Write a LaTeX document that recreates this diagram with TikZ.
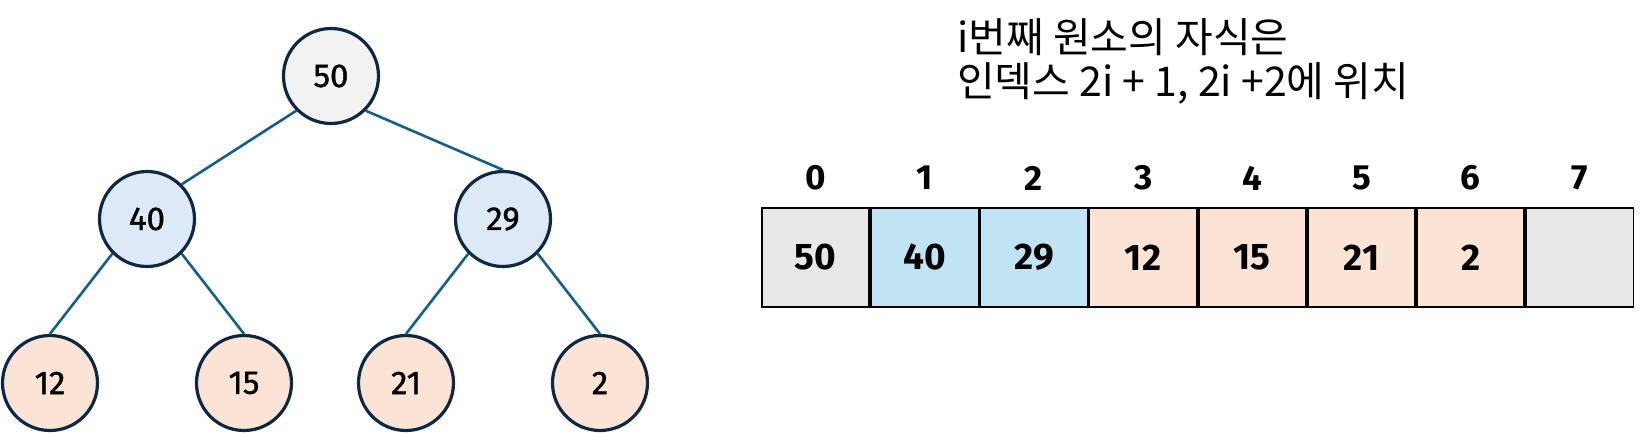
\documentclass[tikz,border=0pt]{standalone}
\usepackage{fontspec}
\setmainfont{Fira Sans}
\newfontfamily\circfont[FakeBold=1.2]{Fira Sans}
\newfontfamily\krfont{Noto Sans CJK KR}
\definecolor{rootfill}{HTML}{F2F2F2}
\definecolor{midfill}{HTML}{DCE9F7}
\definecolor{leaffill}{HTML}{FBE3D6}
\definecolor{ringcol}{HTML}{0E2841}
\definecolor{edgecol}{HTML}{156082}
\definecolor{graycell}{HTML}{E8E8E8}
\definecolor{bluecell}{HTML}{C1E4F5}
\tikzset{
  heapnode/.style={circle, draw=ringcol, line width=3.2pt, minimum size=95pt, inner sep=0pt, font=\circfont\fontsize{33}{35}\selectfont},
  treeedge/.style={draw=edgecol, line width=2.6pt},
  cellbox/.style={draw=black, line width=1.8pt, minimum width=107.375pt, minimum height=99pt, inner sep=0pt, anchor=north west, font=\bfseries\fontsize{37}{40}\selectfont},
  idxlabel/.style={font=\bfseries\fontsize{35}{38}\selectfont, inner sep=0pt},
  notetext/.style={font=\krfont\fontsize{41}{44}\selectfont, align=left, anchor=west, inner sep=0pt}
}
\begin{document}
\begin{tikzpicture}[x=1pt, y=-1pt]
\useasboundingbox (0,0) rectangle (1652,433);
% tree nodes
\node[heapnode, fill=rootfill] (n50) at (331,76) {50};
\node[heapnode, fill=midfill] (n40) at (147,219) {40};
\node[heapnode, fill=midfill] (n29) at (503,219) {29};
\node[heapnode, fill=leaffill] (n12) at (50,383) {12};
\node[heapnode, fill=leaffill] (n15) at (244,383) {15};
\node[heapnode, fill=leaffill] (n21) at (406,383) {21};
\node[heapnode, fill=leaffill] (n2) at (600,383) {2};
% edges
\draw[treeedge] (n50.south west) -- (n40.north east);
\draw[treeedge] (n50.south east) -- (n29.north);
\draw[treeedge] (n40.south west) -- (n12.north);
\draw[treeedge] (n40.south east) -- (n15.north);
\draw[treeedge] (n29.south west) -- (n21.north);
\draw[treeedge] (n29.south east) -- (n2.north);
% note
\node[notetext] (note) at (957,61) {i번째 원소의 자식은\\인덱스 2i + 1, 2i +2에 위치};
% array
\node[cellbox, fill=graycell] (c0) at (761,207) {50};
\node[cellbox, fill=bluecell] (c1) at (c0.north east) {40};
\node[cellbox, fill=bluecell] (c2) at (c1.north east) {29};
\node[cellbox, fill=leaffill] (c3) at (c2.north east) {12};
\node[cellbox, fill=leaffill] (c4) at (c3.north east) {15};
\node[cellbox, fill=leaffill] (c5) at (c4.north east) {21};
\node[cellbox, fill=leaffill] (c6) at (c5.north east) {2};
\node[cellbox, fill=graycell] (c7) at (c6.north east) {};
% indices
\foreach \i in {0,...,7} {
  \node[idxlabel] (i\i) at ([yshift=29pt]c\i.north) {\i};
}
\end{tikzpicture}
\end{document}
